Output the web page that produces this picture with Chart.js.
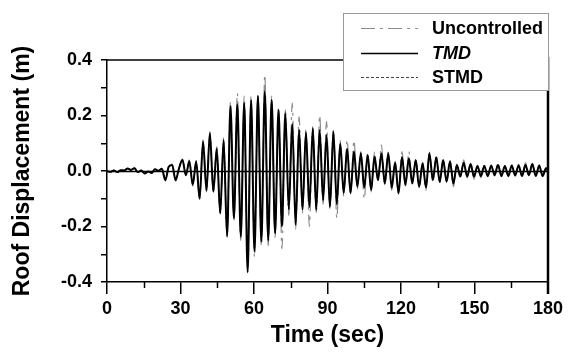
<!DOCTYPE html>
<html>
<head>
<meta charset="utf-8">
<script src="https://cdn.jsdelivr.net/npm/chart.js@4.4.1/dist/chart.umd.min.js"></script>
<style>
  body { margin: 0; background: #fff; }
  canvas { display: block; }
</style>
</head>
<body>
<canvas id="myChart" width="581" height="356"></canvas>
<script>
/* global Chart */
// time samples (sec), one peak or trough per sample
const time = [0,1.4,2.8,4.2,5.6,7,8.4,9.8,11.2,12.6,14,15.4,16.8,18.2,19.6,21,22.4,23.8,25.2,26.6,
  28,29.4,30.8,32.2,33.6,35,36.4,37.8,39.2,40.6,42,43.4,44.8,46.2,47.6,49,50.4,51.8,53.2,54.6,
  56,57.4,58.8,60.2,61.6,63,64.4,65.8,67.2,68.6,70,71.4,72.8,74.2,75.6,77,78.4,79.8,81.2,82.6,
  84,85.4,86.8,88.2,89.6,91,92.4,93.8,95.2,96.6,98,99.4,100.8,102.2,103.6,105,106.4,107.8,109.2,110.6,
  112,113.4,114.8,116.2,117.6,119,120.4,121.8,123.2,124.6,126,127.4,128.8,130.2,131.6,133,134.4,135.8,137.2,138.6,
  140,141.4,142.8,144.2,145.6,147,148.4,149.8,151.2,152.6,154,155.4,156.8,158.2,159.6,161,162.4,163.8,165.2,166.6,
  168,169.4,170.8,172.2,173.6,175,176.4,177.8,179.2,180];

// roof displacement (m)
const uncontrolled = [0.000,-0.003,0.003,-0.004,0.004,0.001,0.010,0.003,0.011,-0.005,
  0.003,-0.010,-0.002,-0.008,0.007,0.000,0.010,-0.036,0.018,0.025,
  -0.036,0.012,0.044,-0.018,0.040,-0.055,0.038,-0.105,0.112,-0.075,
  0.142,-0.080,0.088,-0.160,0.120,-0.240,0.250,-0.180,0.280,-0.250,
  0.270,-0.330,0.272,-0.310,0.280,-0.270,0.347,-0.270,0.270,-0.240,
  0.230,-0.280,0.220,-0.160,0.245,-0.210,0.196,-0.150,0.150,-0.200,
  0.160,-0.150,0.200,-0.120,0.178,-0.140,0.150,-0.170,0.110,-0.090,
  0.112,-0.085,0.110,-0.065,0.070,-0.100,0.065,-0.075,0.070,-0.040,
  0.094,-0.050,0.068,-0.070,0.035,-0.085,0.070,-0.055,0.070,-0.050,
  0.045,-0.060,0.032,-0.070,0.068,-0.040,0.058,-0.045,0.045,-0.042,
  0.038,-0.057,0.025,-0.022,0.040,-0.025,0.030,-0.030,0.020,-0.025,
  0.020,-0.020,0.022,-0.018,0.030,-0.020,0.020,-0.020,0.022,-0.018,
  0.025,-0.020,0.030,-0.018,0.028,-0.020,0.022,-0.020,0.012,0.000];

const tmd = [0.000,-0.003,0.002,-0.004,0.003,0.002,0.009,0.004,0.010,-0.004,
  0.002,-0.009,-0.002,-0.007,0.006,0.001,0.008,-0.033,0.015,0.022,
  -0.033,0.010,0.040,-0.015,0.036,-0.050,0.034,-0.100,0.106,-0.070,
  0.136,-0.075,0.080,-0.153,0.112,-0.235,0.233,-0.170,0.240,-0.237,
  0.245,-0.365,0.256,-0.290,0.270,-0.255,0.287,-0.250,0.257,-0.225,
  0.220,-0.200,0.208,-0.140,0.170,-0.195,0.150,-0.140,0.140,-0.130,
  0.154,-0.140,0.148,-0.105,0.130,-0.130,0.142,-0.120,0.100,-0.080,
  0.080,-0.080,0.070,-0.057,0.064,-0.060,0.058,-0.069,0.052,-0.033,
  0.064,-0.045,0.064,-0.060,0.030,-0.080,0.050,-0.050,0.046,-0.045,
  0.040,-0.057,0.028,-0.060,0.064,-0.033,0.050,-0.040,0.040,-0.038,
  0.034,-0.045,0.022,-0.020,0.030,-0.020,0.025,-0.020,0.018,-0.018,
  0.018,-0.018,0.020,-0.015,0.022,-0.018,0.018,-0.018,0.020,-0.016,
  0.020,-0.018,0.022,-0.015,0.025,-0.018,0.020,-0.018,0.010,0.000];

const stmd = [0.000,-0.003,0.002,-0.004,0.003,0.002,0.008,0.004,0.010,-0.004,
  0.002,-0.009,-0.002,-0.007,0.006,0.001,0.008,-0.031,0.014,0.020,
  -0.031,0.009,0.038,-0.014,0.034,-0.048,0.032,-0.095,0.100,-0.066,
  0.130,-0.072,0.078,-0.148,0.108,-0.228,0.226,-0.165,0.232,-0.230,
  0.238,-0.350,0.250,-0.282,0.262,-0.248,0.278,-0.243,0.250,-0.218,
  0.214,-0.194,0.202,-0.136,0.165,-0.190,0.146,-0.136,0.136,-0.126,
  0.150,-0.136,0.144,-0.102,0.126,-0.126,0.138,-0.116,0.097,-0.078,
  0.078,-0.078,0.068,-0.055,0.062,-0.058,0.056,-0.067,0.050,-0.032,
  0.062,-0.044,0.062,-0.058,0.029,-0.077,0.048,-0.048,0.044,-0.044,
  0.039,-0.055,0.027,-0.058,0.062,-0.032,0.048,-0.039,0.039,-0.037,
  0.033,-0.044,0.021,-0.019,0.029,-0.019,0.024,-0.019,0.017,-0.017,
  0.017,-0.017,0.019,-0.015,0.021,-0.017,0.017,-0.017,0.019,-0.015,
  0.019,-0.017,0.021,-0.015,0.024,-0.017,0.019,-0.017,0.010,0.000];

const seriesNames = ["Uncontrolled", "TMD", "STMD"];
const xTicks = [0, 30, 60, 90, 120, 150, 180];
const xMinorTicks = [15, 45, 75, 105, 135, 165];
const yTicks = [-0.4, -0.3, -0.2, -0.1, 0, 0.1, 0.2, 0.3, 0.4];
const yTickLabels = { "-0.4": "-0.4", "-0.2": "-0.2", "0": "0.0", "0.2": "0.2", "0.4": "0.4" };

const FONT = "'Liberation Sans', Arial, sans-serif";

function toPoints(arr) {
  return arr.map((v, i) => ({ x: time[i], y: v }));
}

// frame, zero line, minor ticks and the boxed legend
const extras = {
  id: "extras",
  afterDatasetsDraw(chart) {
    const { ctx, chartArea: a, scales } = chart;
    ctx.save();
    ctx.strokeStyle = "#000";
    ctx.lineWidth = 1.5;
    const y0 = Math.round(scales.y.getPixelForValue(0)) + 0.5;
    ctx.beginPath();
    ctx.moveTo(a.left, y0);
    ctx.lineTo(a.right, y0);
    ctx.stroke();
    ctx.restore();
  },
  afterDraw(chart) {
    const { ctx, chartArea: a, scales } = chart;
    ctx.save();
    ctx.strokeStyle = "#000";
    ctx.lineWidth = 1.5;
    ctx.beginPath();
    ctx.moveTo(a.left, a.top);
    ctx.lineTo(a.right, a.top);
    ctx.stroke();
    ctx.lineWidth = 2.5;
    ctx.beginPath();
    ctx.moveTo(a.right, a.top - 3);
    ctx.lineTo(a.right, a.bottom + 12);
    ctx.stroke();

    // minor x ticks
    ctx.lineWidth = 1.5;
    xMinorTicks.forEach((t) => {
      const px = Math.round(scales.x.getPixelForValue(t)) + 0.5;
      ctx.beginPath();
      ctx.moveTo(px, a.bottom);
      ctx.lineTo(px, a.bottom + 6);
      ctx.stroke();
    });

    // legend
    const lx = 343, ly = 13, lw = 205, lh = 77;
    ctx.fillStyle = "#fff";
    ctx.fillRect(lx, ly, lw, lh);
    ctx.strokeStyle = "#999";
    ctx.lineWidth = 1;
    ctx.strokeRect(lx + 0.5, ly + 0.5, lw, lh);
    const rows = [28, 53, 77];
    chart.data.datasets.forEach((ds, i) => {
      ctx.strokeStyle = ds.borderColor;
      ctx.lineWidth = Math.min(ds.borderWidth, 1.5);
      ctx.setLineDash(ds.borderDash || []);
      ctx.beginPath();
      ctx.moveTo(361, rows[i] + 0.5);
      ctx.lineTo(418, rows[i] + 0.5);
      ctx.stroke();
      ctx.setLineDash([]);
      ctx.fillStyle = "#000";
      ctx.font = (i === 1 ? "italic " : "") + "bold 18px " + FONT;
      ctx.textBaseline = "middle";
      ctx.textAlign = "left";
      ctx.fillText(seriesNames[i], 432, rows[i] + 1);
    });
    ctx.restore();
  },
};

const ctx = document.getElementById("myChart").getContext("2d");
const myChart = new Chart(ctx, {
  type: "line",
  data: {
    datasets: [
      {
        label: seriesNames[0],
        data: toPoints(uncontrolled),
        borderColor: "#8c8c8c",
        borderWidth: 1.2,
        borderDash: [14, 5, 3, 5],
        order: 2,
      },
      {
        label: seriesNames[1],
        data: toPoints(tmd),
        borderColor: "#000",
        borderWidth: 2,
        order: 0,
      },
      {
        label: seriesNames[2],
        data: toPoints(stmd),
        borderColor: "#444",
        borderWidth: 1,
        borderDash: [3, 2],
        order: 1,
      },
    ],
  },
  options: {
    responsive: false,
    animation: false,
    devicePixelRatio: 1,
    layout: { padding: { left: 0, right: 33, top: 60, bottom: 0 } },
    elements: {
      point: { radius: 0 },
      line: { cubicInterpolationMode: "monotone", fill: false },
    },
    plugins: { legend: { display: false }, tooltip: { enabled: false } },
    scales: {
      x: {
        type: "linear",
        min: 0,
        max: 180,
        afterFit: (s) => { s.height = 74; },
        afterBuildTicks: (s) => { s.ticks = xTicks.map((v) => ({ value: v })); },
        ticks: {
          color: "#000",
          font: { family: FONT, size: 18, weight: "bold" },
          padding: 4,
          maxRotation: 0,
          callback: (v) => String(v),
        },
        grid: { drawOnChartArea: false, color: "#000", lineWidth: 1.5, tickLength: 12 },
        border: { color: "#000", width: 1.5 },
        title: {
          display: true,
          text: "Time (sec)",
          color: "#000",
          font: { family: FONT, size: 23, weight: "bold" },
          padding: { top: 0, bottom: 7 },
        },
      },
      y: {
        min: -0.4,
        max: 0.4,
        afterFit: (s) => { s.width = 107; },
        afterBuildTicks: (s) => { s.ticks = yTicks.map((v) => ({ value: v })); },
        ticks: {
          color: "#000",
          font: { family: FONT, size: 18, weight: "bold" },
          padding: 9,
          callback: (v) => yTickLabels[String(Math.round(v * 10) / 10)] || "",
        },
        grid: { drawOnChartArea: false, color: "#000", lineWidth: 1.5, tickLength: 6 },
        border: { color: "#000", width: 1.5 },
        title: {
          display: true,
          text: "Roof Displacement (m)",
          color: "#000",
          font: { family: FONT, size: 23, weight: "bold" },
          padding: { top: 9, bottom: 0 },
        },
      },
    },
  },
  plugins: [extras],
});
</script>
</body>
</html>
